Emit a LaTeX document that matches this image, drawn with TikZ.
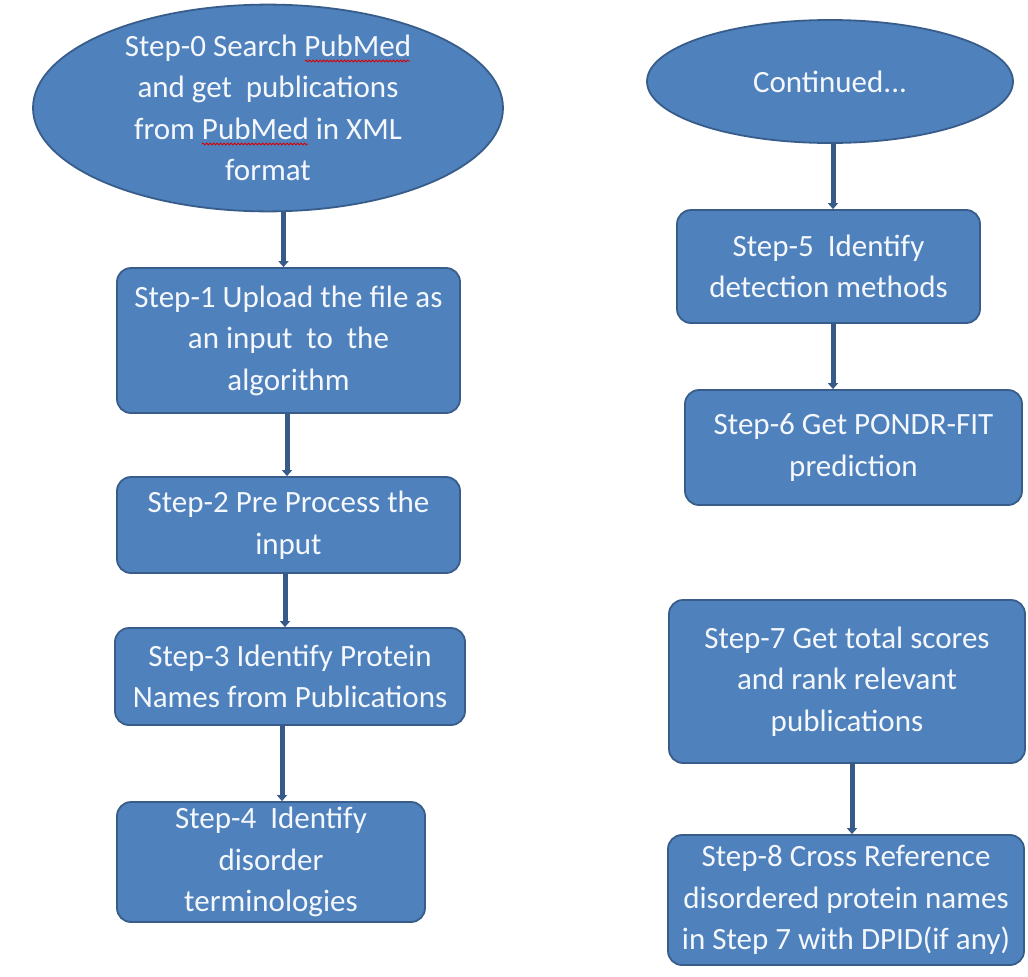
\documentclass[tikz,border=0pt]{standalone}
\usepackage{fontspec}
\setmainfont{Carlito}
\usetikzlibrary{shapes.geometric,arrows.meta,decorations.pathmorphing}
\definecolor{boxfill}{HTML}{4F81BD}
\definecolor{boxline}{HTML}{385D8A}
\definecolor{linkcol}{HTML}{385A88}
\definecolor{txtcol}{HTML}{F4F7FC}
\tikzset{
  base/.style={fill=boxfill, draw=boxline, line width=1.8pt, text=txtcol, align=center,
    inner sep=0pt, font=\fontsize{31}{41.5}\selectfont},
  stepbox/.style={base, rectangle, rounded corners=14pt},
  oval/.style={base, ellipse},
  link/.style={draw=linkcol, line width=5pt, -{Triangle[width=10pt,length=6pt]}},
  squig/.style={draw=red!85!black, line width=0.8pt, decorate,
    decoration={snake, amplitude=1pt, segment length=3.5pt}}
}
\begin{document}
\begin{tikzpicture}[x=1pt,y=-1pt]
\useasboundingbox[fill=white] (0,0) rectangle (1028,977);
\node[oval, minimum width=470pt, minimum height=177pt] (e0) at (268,108)
  {Step-0 Search PubMed\\and get\ \ publications\\from PubMed in XML\\format};
\node[stepbox, minimum width=343pt, minimum height=145pt] (b1) at (288.5,340.5)
  {Step-1 Upload the file as\\an input\ \ to\ \ the\\algorithm};
\node[stepbox, minimum width=343pt, minimum height=96pt] (b2) at (288.5,525)
  {Step-2 Pre Process the\\input};
\node[stepbox, minimum width=350pt, minimum height=97pt] (b3) at (290,676.5)
  {Step-3 Identify Protein\\Names from Publications};
\node[stepbox, minimum width=308pt, minimum height=120pt] (b4) at (271,862)
  {Step-4\ \ Identify\\disorder\\terminologies};
\node[oval, minimum width=366pt, minimum height=123pt] (e5) at (830,81.5)
  {Continued...};
\node[stepbox, minimum width=303pt, minimum height=113pt] (b5) at (828.5,266.5)
  {Step-5\ \ Identify\\detection methods};
\node[stepbox, minimum width=337pt, minimum height=115pt] (b6) at (853.5,447.5)
  {Step-6 Get PONDR-FIT\\prediction};
\node[stepbox, minimum width=356pt, minimum height=163pt] (b7) at (847,681.5)
  {Step-7 Get total scores\\and rank relevant\\publications};
\node[stepbox, minimum width=356pt, minimum height=130pt] (b8) at (846,900)
  {Step-8 Cross Reference\\disordered protein names\\in Step 7 with DPID(if any)};
\draw[squig] ([shift={(37,-47)}]e0.center) -- ([shift={(142,-47)}]e0.center);
\draw[squig] ([shift={(-66,36)}]e0.center) -- ([shift={(40,36)}]e0.center);
\draw[link] ([xshift=-5pt]b1.north |- e0.south) -- ([xshift=-5pt]b1.north);
\draw[link] ([xshift=-1.5pt]b1.south) -- ([xshift=-1.5pt]b2.north);
\draw[link] ([xshift=-5pt]b2.south -| b3.north) -- ([xshift=-5pt]b3.north);
\draw[link] ([xshift=-8pt]b3.south) -- ([xshift=-8pt]b3.south |- b4.north);
\draw[link] ([xshift=3pt]e5.south) -- ([xshift=3pt]e5.south |- b5.north);
\draw[link] ([xshift=4.5pt]b5.south) -- ([xshift=4.5pt]b5.south |- b6.north);
\draw[link] ([xshift=6pt]b8.north |- b7.south) -- ([xshift=6pt]b8.north);
\end{tikzpicture}
\end{document}
